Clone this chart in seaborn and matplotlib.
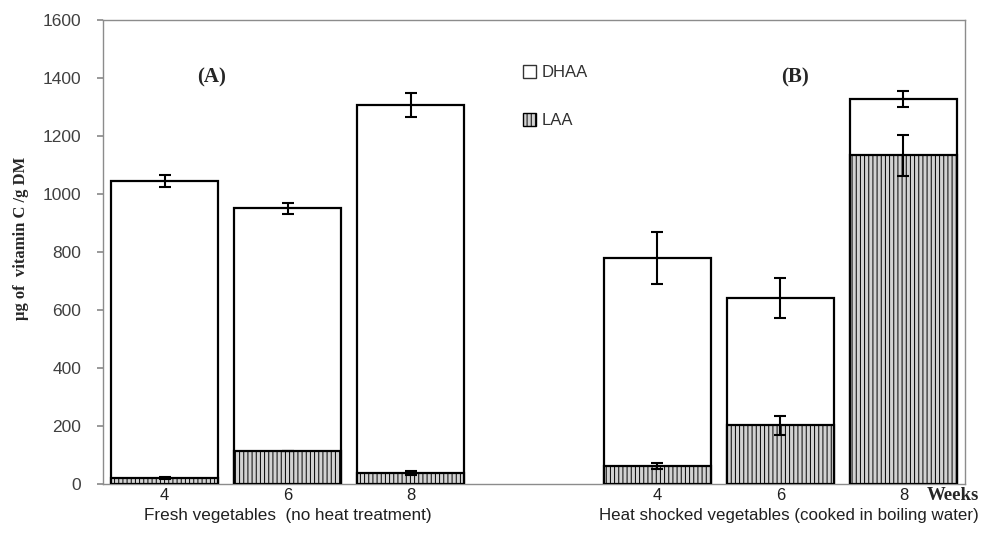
import numpy as np
import pandas as pd
import matplotlib
matplotlib.use("Agg")
import matplotlib.pyplot as plt
import matplotlib.patches as mpatches
import seaborn as sns

# data (µg vitamin C / g DM)
weeks = ["4", "6", "8", "4", "6", "8"]
positions = [0, 1, 2, 4, 5, 6]
total_vit_c = [1045, 950, 1307, 780, 642, 1328]
total_err = [22, 20, 40, 90, 68, 28]
laa = [20, 113, 38, 62, 202, 1133]
laa_err = [3, 0, 7, 10, 32, 72]
group_labels = ["Fresh vegetables  (no heat treatment)",
                "Heat shocked vegetables (cooked in boiling water)"]

df = pd.DataFrame({"pos": positions, "total": total_vit_c, "laa": laa})

sns.set_theme(style="white")
plt.rcParams["font.family"] = ["Liberation Sans", "DejaVu Sans"]
plt.rcParams["hatch.color"] = "#ababab"
plt.rcParams["hatch.linewidth"] = 0.7

fig = plt.figure(figsize=(9.81, 5.46), dpi=100)
ax = fig.add_axes([0.105, 0.1136, 0.8787, 0.8498])

bw = 0.87
sns.barplot(data=df, x="pos", y="total", native_scale=True, width=bw,
            color="white", edgecolor="black", linewidth=1.6, ax=ax, zorder=2)
sns.barplot(data=df, x="pos", y="laa", native_scale=True, width=bw,
            color="#d2d2d2", edgecolor="black", linewidth=1.6, ax=ax, zorder=3)
# hatch only the LAA bars (second set of patches)
n = len(positions)
for p in ax.patches[n:]:
    p.set_hatch("||||")
    p.set_facecolor("#d2d2d2")
    p.set_edgecolor("black")

ax.errorbar(positions, total_vit_c, yerr=total_err, fmt="none", ecolor="black",
            elinewidth=1.5, capsize=4.5, capthick=1.5, zorder=5)
ax.errorbar(positions, laa, yerr=laa_err, fmt="none", ecolor="black",
            elinewidth=1.5, capsize=4.5, capthick=1.5, zorder=5)

ax.set_xlim(-0.5, 6.5)
ax.set_ylim(0, 1600)
ax.set_yticks(range(0, 1601, 200))
ax.tick_params(axis="y", labelsize=12.5, labelcolor="#404040", length=4.5,
               color="#8c8c8c", direction="out", left=True, pad=11)
ax.set_xticks(positions)
ax.set_xticklabels(weeks, fontsize=12, color="#202020")
ax.tick_params(axis="x", length=0, pad=3)
ax.set_xlabel("")
ax.set_ylabel("µg of  vitamin C /g DM", fontsize=12, fontweight="bold",
              family="Liberation Serif", labelpad=10)
ax.yaxis.label.set_y(0.53)

for s in ax.spines.values():
    s.set_color("#8c8c8c")
    s.set_linewidth(1.0)

# group captions and panel letters
ax.text(1, -0.052, group_labels[0], transform=ax.get_xaxis_transform(),
        ha="center", va="top", fontsize=12.3, color="#202020")
ax.text(5.07, -0.052, group_labels[1], transform=ax.get_xaxis_transform(),
        ha="center", va="top", fontsize=12.2, color="#202020")
ax.text(6.19, -0.006, "Weeks", transform=ax.get_xaxis_transform(),
        ha="left", va="top", fontsize=13.5, fontweight="bold",
        family="Liberation Serif", clip_on=False)
ax.text(0.385, 1400, "(A)", fontsize=15, fontweight="bold",
        family="Liberation Serif", ha="center", va="center")
ax.text(5.12, 1400, "(B)", fontsize=15, fontweight="bold",
        family="Liberation Serif", ha="center", va="center")

handles = [mpatches.Patch(facecolor="white", edgecolor="#333333", label="DHAA"),
           mpatches.Patch(facecolor="#d2d2d2", edgecolor="black", hatch="||||",
                          label="LAA")]
ax.legend(handles=handles, loc="upper left", bbox_to_anchor=(0.47, 0.935),
          frameon=False, labelspacing=1.95, handlelength=0.8, handleheight=0.8,
          handletextpad=0.3, fontsize=12, labelcolor="#303030")

fig.savefig("out.png", dpi=100)
